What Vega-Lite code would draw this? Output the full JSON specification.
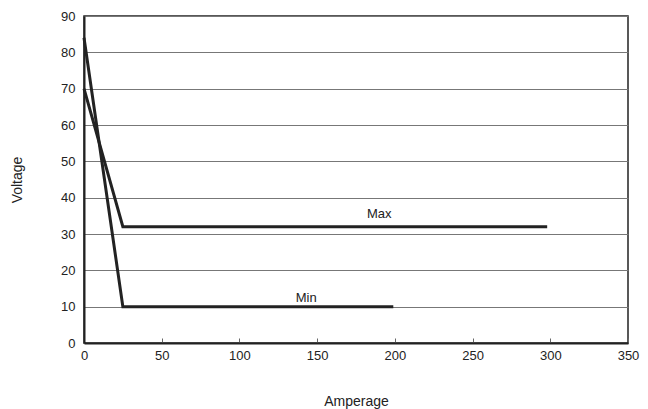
{
  "$schema": "https://vega.github.io/schema/vega-lite/v6.json",
  "autosize": "none",
  "width": 544,
  "height": 327,
  "padding": {"left": 84, "top": 16, "right": 20, "bottom": 66},
  "background": "white",
  "config": {
    "view": {"stroke": "#222", "strokeWidth": 1.5},
    "font": "Liberation Sans Narrow, Liberation Sans, Arial",
    "axis": {
      "labelFont": "Liberation Sans Narrow, Liberation Sans, Arial",
      "titleFont": "Liberation Sans Narrow, Liberation Sans, Arial",
      "labelFontSize": 13,
      "titleFontSize": 14,
      "titleFontWeight": "normal",
      "labelColor": "#222",
      "titleColor": "#222",
      "labelOverlap": false,
      "labelFlush": false,
      "labelBound": false
    }
  },
  "datasets": {
    "lines": [
      {"series": "Max", "amp": 0, "volt": 70},
      {"series": "Max", "amp": 25, "volt": 32},
      {"series": "Max", "amp": 298, "volt": 32},
      {"series": "Min", "amp": 0, "volt": 84},
      {"series": "Min", "amp": 25, "volt": 10},
      {"series": "Min", "amp": 199, "volt": 10}
    ],
    "labels": [
      {"label": "Max", "amp": 190, "volt": 35.5},
      {"label": "Min", "amp": 143, "volt": 12.5}
    ]
  },
  "encoding": {
    "x": {
      "field": "amp", "type": "quantitative",
      "scale": {"domain": [0, 350], "nice": false},
      "axis": {
        "title": "Amperage", "values": [0, 50, 100, 150, 200, 250, 300, 350],
        "grid": false, "tickSize": -5, "tickColor": "#666", "domainColor": "#222", "domainWidth": 2,
        "labelPadding": 11, "titlePadding": 32
      }
    },
    "y": {
      "field": "volt", "type": "quantitative",
      "scale": {"domain": [0, 90], "nice": false},
      "axis": {
        "title": "Voltage", "values": [0, 10, 20, 30, 40, 50, 60, 70, 80, 90],
        "grid": true, "gridColor": "#777", "gridWidth": 1, "gridOpacity": 1,
        "ticks": false, "domainColor": "#222", "domainWidth": 2,
        "labelPadding": 9, "titlePadding": 36
      }
    }
  },
  "layer": [
    {
      "data": {"name": "lines"},
      "mark": {"type": "line", "color": "#222", "strokeWidth": 3, "clip": false},
      "encoding": {
        "detail": {"field": "series"}
      }
    },
    {
      "data": {"name": "labels"},
      "mark": {"type": "text", "fontSize": 13, "color": "#222", "font": "Liberation Sans Narrow, Liberation Sans, Arial"},
      "encoding": {
        "text": {"field": "label"}
      }
    }
  ]
}
